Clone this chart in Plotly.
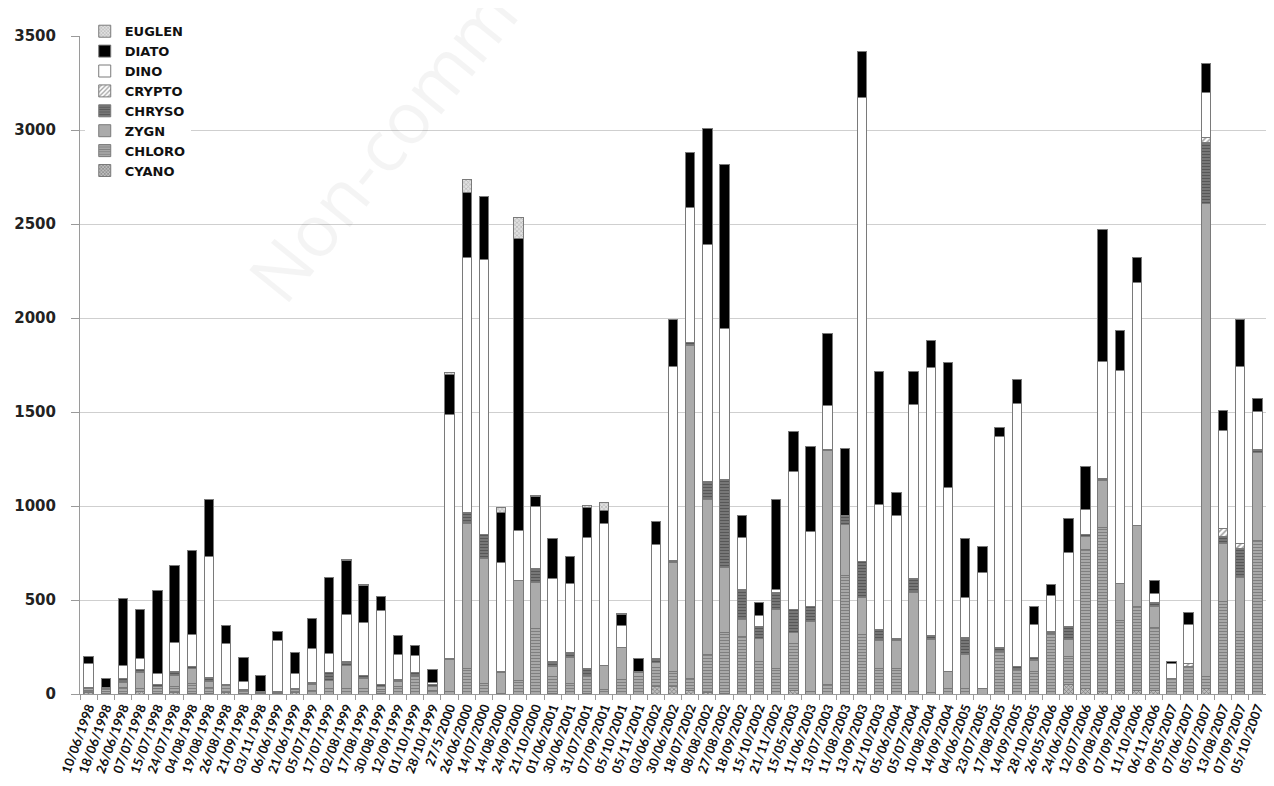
import plotly.graph_objects as go

dates = [
    "10/06/1998", "18/06/1998", "26/06/1998", "07/07/1998", "15/07/1998", "24/07/1998",
    "04/08/1998", "19/08/1998", "26/08/1998", "21/09/1998", "03/11/1998",
    "06/06/1999", "21/06/1999", "05/07/1999", "17/07/1999", "02/08/1999", "17/08/1999",
    "30/08/1999", "12/09/1999", "01/10/1999", "28/10/1999",
    "27/5/2000", "26/06/2000", "14/07/2000", "14/08/2000", "24/09/2000", "21/10/2000",
    "01/06/2001", "30/06/2001", "31/07/2001", "07/09/2001", "05/10/2001", "05/11/2001",
    "03/06/2002", "30/06/2002", "18/07/2002", "08/08/2002", "27/08/2002", "18/09/2002",
    "15/10/2002", "21/11/2002",
    "15/05/2003", "11/06/2003", "13/07/2003", "11/08/2003", "13/09/2003", "21/10/2003",
    "05/06/2004", "05/07/2004", "10/08/2004", "14/09/2004",
    "04/06/2005", "23/07/2005", "17/08/2005", "14/09/2005", "28/10/2005",
    "26/05/2006", "24/06/2006", "12/07/2006", "09/08/2006", "07/09/2006", "11/10/2006",
    "06/11/2006",
    "09/05/2007", "07/06/2007", "05/07/2007", "13/08/2007", "07/09/2007", "05/10/2007",
]

# stacked from bottom to top
cyano = [8, 3, 5, 11, 3, 9, 5, 4, 8, 5, 3,
         2, 7, 0, 0, 0, 0, 3, 0, 0, 0,
         0, 0, 0, 0, 0, 0,
         5, 0, 4, 0, 0, 0,
         40, 41, 18, 10, 5, 0, 0, 0,
         19, 0, 0, 0, 0, 0,
         0, 0, 0, 0,
         0, 0, 0, 0, 0,
         0, 50, 30, 12, 18, 18, 18,
         0, 0, 30, 0, 0, 0]
chloro = [10, 12, 30, 20, 25, 30, 53, 30, 35, 15, 5,
          5, 15, 18, 30, 30, 30, 20, 39, 92, 18,
          12, 134, 58, 5, 71, 346,
          90, 58, 90, 23, 76, 95,
          100, 77, 62, 200, 320, 306, 173, 134,
          250, 12, 53, 630, 318, 134,
          135, 12, 8, 30,
          30, 0, 226, 129, 118,
          318, 150, 737, 875, 374, 445, 335,
          81, 145, 64, 491, 330, 818]
zygn = [12, 10, 25, 85, 10, 60, 80, 35, 0, 0, 0,
        3, 0, 35, 44, 124, 50, 15, 27, 0, 20,
        170, 771, 663, 110, 535, 248,
        50, 138, 0, 129, 173, 20,
        30, 580, 1776, 822, 350, 88, 122, 315,
        60, 375, 1240, 270, 196, 149,
        150, 529, 280, 88,
        180, 30, 0, 0, 62,
        0, 90, 69, 249, 196, 431, 110,
        0, 0, 2516, 311, 292, 468]
chryso = [5, 5, 20, 15, 15, 20, 10, 20, 5, 5, 4,
          2, 8, 9, 39, 18, 21, 10, 12, 21, 10,
          5, 58, 127, 3, 0, 76,
          30, 23, 40, 0, 0, 3,
          20, 12, 16, 97, 468, 161, 62, 92,
          120, 81, 9, 50, 189, 58,
          10, 76, 23, 0,
          90, 0, 23, 16, 12,
          16, 70, 12, 12, 0, 0, 23,
          0, 0, 323, 35, 150, 16]
crypto = [0] * 64 + [18, 28, 42, 30, 0]
dino = [128, 3, 74, 59, 57, 154, 170, 645, 218, 39, 0,
        270, 80, 181, 103, 252, 280, 395, 133, 91, 14,
        1299, 1359, 1463, 580, 265, 328,
        442, 369, 698, 753, 115, 0,
        606, 1030, 714, 1263, 799, 277, 60, 14,
        733, 396, 230, 0, 2472, 668,
        652, 922, 1424, 983,
        214, 617, 1122, 1399, 178,
        191, 392, 131, 622, 1135, 1297, 51,
        80, 205, 237, 523, 938, 202]
diato = [39, 50, 355, 260, 443, 413, 447, 301, 101, 129, 86,
         50, 112, 158, 403, 284, 195, 75, 99, 53, 66,
         214, 346, 334, 265, 1550, 50,
         208, 145, 159, 70, 58, 73,
         120, 253, 295, 615, 876, 115, 69, 482,
         214, 452, 387, 357, 242, 707,
         124, 177, 143, 664,
         311, 139, 46, 127, 94,
         58, 184, 233, 699, 208, 131, 69,
         12, 64, 154, 108, 253, 70]
euglen = [0] * 15 + [5, 4] + [0] * 4 + [10, 69, 0, 28, 113, 7, 0, 0, 10, 46, 5] + [0] * 37

series = [
    ("CYANO", cyano, dict(color="#bdbdbd", pattern=dict(shape="x", fgcolor="#3a3a3a", bgcolor="#bdbdbd", size=3, solidity=0.4))),
    ("CHLORO", chloro, dict(color="#a8a8a8", pattern=dict(shape="-", fgcolor="#555555", bgcolor="#a8a8a8", size=3, solidity=0.35))),
    ("ZYGN", zygn, dict(color="#ababab")),
    ("CHRYSO", chryso, dict(color="#707070", pattern=dict(shape="-", fgcolor="#333333", bgcolor="#7a7a7a", size=3, solidity=0.4))),
    ("CRYPTO", crypto, dict(color="#ffffff", pattern=dict(shape="/", fgcolor="#444444", bgcolor="#ffffff", size=4, solidity=0.4))),
    ("DINO", dino, dict(color="#ffffff")),
    ("DIATO", diato, dict(color="#000000")),
    ("EUGLEN", euglen, dict(color="#d8d8d8", pattern=dict(shape="x", fgcolor="#777777", bgcolor="#e0e0e0", size=3, solidity=0.35))),
]

fig = go.Figure()
for name, vals, style in series:
    fig.add_trace(go.Bar(
        x=dates, y=vals, name=name,
        marker=dict(line=dict(color="#7a7a7a", width=1), **style),
    ))

# faint watermark
fig.add_annotation(
    text="Non-commercial", xref="paper", yref="paper", x=0.302, y=0.942,
    xanchor="center", yanchor="middle",
    showarrow=False, textangle=-51,
    font=dict(family="Open Sans", size=72, color="rgba(0,0,0,0.045)"),
)

fig.update_layout(
    width=1258, height=770,
    barmode="stack", bargap=0.45,
    plot_bgcolor="white", paper_bgcolor="white",
    margin=dict(l=72, r=0, t=28, b=84),
    showlegend=True,
    legend=dict(
        traceorder="reversed", x=0.004, y=1.03, xanchor="left", yanchor="top",
        bgcolor="white", font=dict(family="DejaVu Sans", size=13, color="#111", weight="bold"),
        itemwidth=30, tracegroupgap=0,
    ),
    xaxis=dict(
        type="category", tickangle=-70, tickson="boundaries",
        ticks="outside", ticklen=5, tickcolor="#9a9a9a",
        showline=True, linecolor="#9a9a9a", showgrid=False,
        tickfont=dict(family="Lato", size=13, color="#111", weight="bold"),
    ),
    yaxis=dict(
        range=[0, 3500], dtick=500, showgrid=True, gridcolor="#cfcfcf",
        showline=True, linecolor="#9a9a9a", ticks="outside", ticklen=8, tickcolor="#9a9a9a",
        tickfont=dict(family="DejaVu Sans", size=15, color="#222", weight="bold"),
        ticklabelstandoff=12, zeroline=False,
    ),
)

fig.write_html("out.html")
